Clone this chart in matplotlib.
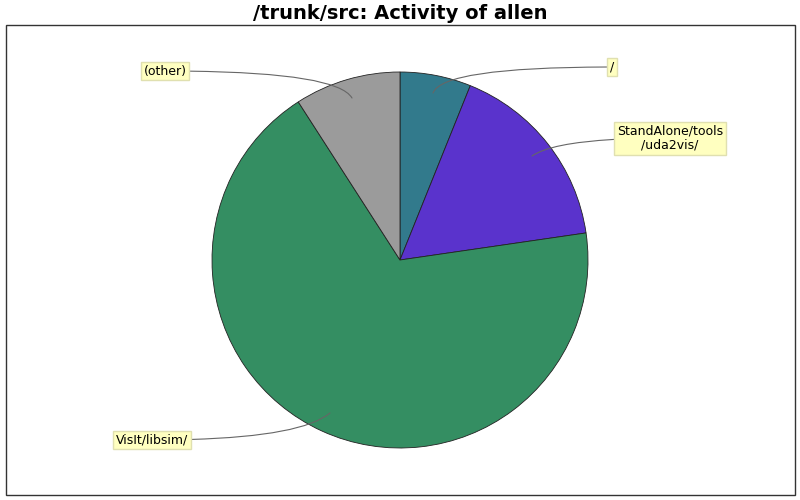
import matplotlib
matplotlib.use("Agg")
import matplotlib.pyplot as plt
from matplotlib.patches import Rectangle

labels = ["/", "StandAlone/tools\n/uda2vis/", "VisIt/libsim/", "(other)"]
values = [6.1, 16.6, 68.2, 9.1]
colors = ["#327a8c", "#5a33cc", "#348e62", "#9b9b9b"]

fig = plt.figure(figsize=(8, 5), dpi=100)
ax = fig.add_axes([0, 0, 1, 1])

wedges, _ = ax.pie(values, colors=colors, startangle=90, counterclock=False,
                   center=(400, 240), radius=188, frame=True,
                   wedgeprops=dict(edgecolor="#222222", linewidth=0.6))
ax.set_xlim(0, 800)
ax.set_ylim(0, 500)
ax.set_aspect("equal")
ax.axis("off")

ax.add_patch(Rectangle((6, 5), 789, 470, fill=False, edgecolor="#333333", lw=1))
fig.text(0.5, 0.973, "/trunk/src: Activity of allen", ha="center", va="center",
         fontsize=14, fontweight="bold")

anchors = [(433, 407), (532, 344), (330, 87), (352, 402)]
label_pos = [(612, 433), (670, 362), (152, 60), (165, 429)]
angB = [70, 35, 40, -60]
for lab, a, p, b in zip(labels, anchors, label_pos, angB):
    ax.annotate(lab, xy=a, xytext=p, ha="center", va="center", fontsize=9,
                bbox=dict(boxstyle="square,pad=0.2", fc="#ffffc0", ec="#e0e0b0", lw=1),
                arrowprops=dict(arrowstyle="-", color="#666666", lw=0.8,
                                shrinkA=0, shrinkB=0,
                                connectionstyle=f"angle3,angleA=0,angleB={b}"))

fig.savefig("out.png", dpi=100)
